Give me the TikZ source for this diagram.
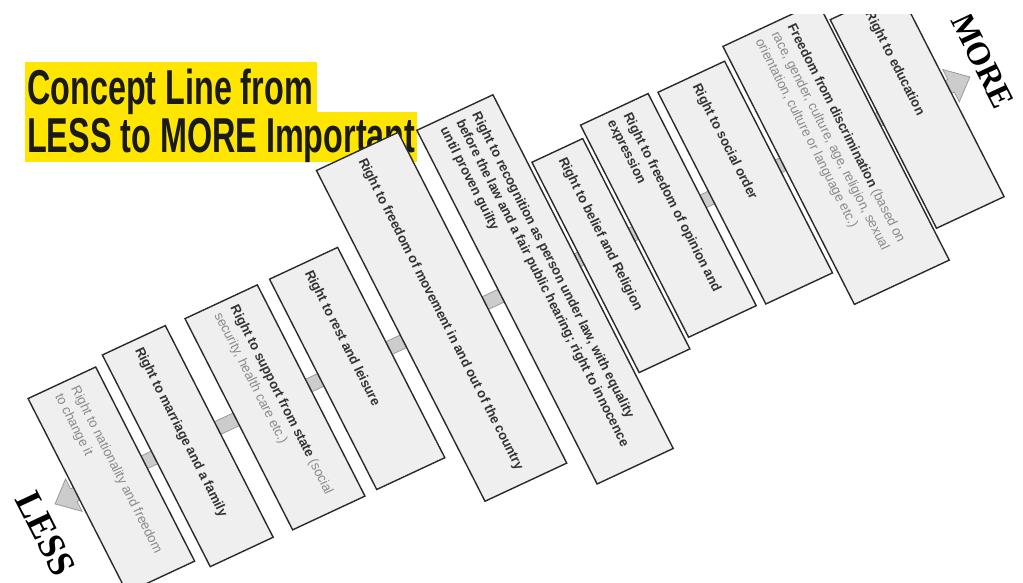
\documentclass[tikz,border=0pt]{standalone}
\usepackage{fontspec}
\setmainfont{Liberation Sans}
\newfontfamily\titlefont[FakeStretch=0.66]{Liberation Sans}
\newfontfamily\endfont{Liberation Serif}
\definecolor{hl}{HTML}{FFE600}
\definecolor{titletext}{HTML}{1A1A1A}
\definecolor{boxfill}{HTML}{EFEFEF}
\definecolor{boxline}{HTML}{2B2B2B}
\definecolor{barfill}{HTML}{CCCCCC}
\definecolor{barline}{HTML}{9A9A9A}
\definecolor{dtxt}{HTML}{333333}
\definecolor{gtxt}{HTML}{8A8A8A}
\tikzset{
  cbox/.style={draw=boxline, fill=boxfill, line width=1.4pt, inner sep=0pt, rectangle},
  ctext/.style={anchor=west, inner sep=0pt, align=left, text=dtxt, font=\fontsize{13}{17}\selectfont},
  titlestyle/.style={anchor=base west, inner sep=0pt, text=titletext, font=\titlefont\bfseries\fontsize{49}{49}\selectfont},
  endlabel/.style={inner sep=0pt, text=black, font=\endfont\bfseries\fontsize{36}{36}\selectfont},
}
\newcommand\gt[1]{\textcolor{gtxt}{#1}}
\newcommand\conceptbox[6]{%
  \node[cbox, minimum width={(#3)-(#2)}, minimum height={(#5)-(#4)}] (#1) at ({((#2)+(#3))/2},{((#4)+(#5))/2}) {};
  \node[ctext] (#1t) at ({(#2)+9},{((#4)+(#5))/2}) {#6};
}
\begin{document}
\begin{tikzpicture}[x=1pt,y=1pt]
\useasboundingbox (0,0) rectangle (1023,583);
\fill[hl] (25,471) rectangle (317,521);
\fill[hl] (25,421) rectangle (417,471);
\node[titlestyle] (t1) at (27,478) {Concept Line from};
\node[titlestyle] (t2) at (27,430) {LESS to MORE Important};
\begin{scope}
\clip (0,0) rectangle (1023,568);
\begin{scope}[xscale=1.045, rotate=-64, transform shape]
  \fill[barfill, draw=barline, line width=0.8pt] (-55,102) -- (-66,102) -- (-48,82) -- (-30,102) -- (-41,102) -- (-41,1036) -- (-30,1036) -- (-48,1056) -- (-66,1036) -- (-55,1036) -- cycle;
  \conceptbox{b1}{-154}{62}{105}{177}{\gt{Right to nationality and freedom}\\\gt{to change it}}
  \conceptbox{b2}{-162}{73.5}{188}{255}{\textbf{Right to marriage and a family}}
  \conceptbox{b3}{-160}{75}{275}{352}{\textbf{Right to support from state} \gt{(social}\\\gt{security, health care etc.)}}
  \conceptbox{b4}{-160}{74}{365}{437.5}{\textbf{Right to rest and leisure}}
  \conceptbox{b5}{-238}{130}{453}{540}{\textbf{Right to freedom of movement in and out of the country}}
  \conceptbox{b6}{-232}{161.5}{557}{638}{\textbf{Right to recognition as person under law, with equality}\\\textbf{before the law and a fair public hearing; right to innocence}\\\textbf{until proven guilty}}
  \conceptbox{b7}{-155}{79}{642}{696}{\textbf{Right to belief and Religion}}
  \conceptbox{b8}{-168}{68}{700}{772}{\textbf{Right to freedom of opinion and}\\\textbf{expression}}
  \conceptbox{b9}{-165}{70.5}{781}{852}{\textbf{Right to social order}}
  \conceptbox{b10}{-179}{108}{857}{958}{\textbf{Freedom from discrimination} \gt{(based on}\\\gt{race, gender, culture, age, religion, sexual}\\\gt{orientation, culture or language etc.)}}
  \conceptbox{b11}{-158}{74}{961}{1033}{\textbf{Right to education}}
  \node[endlabel] (less) at (-25,61) {LESS};
  \node[endlabel, font=\endfont\bfseries\fontsize{32}{32}\selectfont] (more) at (-57,1074) {MORE};
\end{scope}
\end{scope}
\end{tikzpicture}
\end{document}
